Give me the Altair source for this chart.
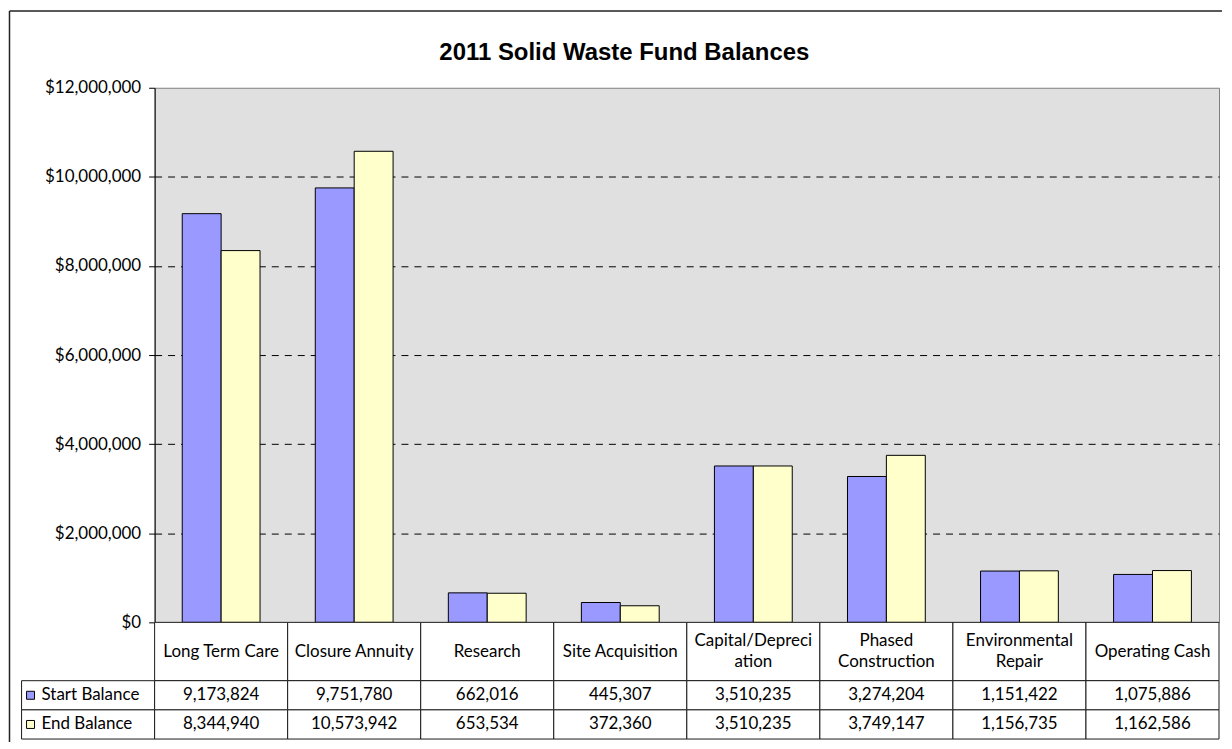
import altair as alt
import pandas as pd

# ---- data ----
categories = ["Long Term Care", "Closure Annuity", "Research", "Site Acquisition",
              "Capital/Depreciation", "Phased Construction", "Environmental Repair", "Operating Cash"]
header_labels = ["Long Term Care", "Closure Annuity", "Research", "Site Acquisition",
                 "Capital/Depreci\nation", "Phased\nConstruction", "Environmental\nRepair", "Operating Cash"]
series = ["Start Balance", "End Balance"]
start_balance = [9173824, 9751780, 662016, 445307, 3510235, 3274204, 1151422, 1075886]
end_balance = [8344940, 10573942, 653534, 372360, 3510235, 3749147, 1156735, 1162586]
colors = ["#9999FF", "#FFFFCC"]
y_ticks = [0, 2000000, 4000000, 6000000, 8000000, 10000000, 12000000]
title_text = ["2011 Solid Waste Fund Balances"]

# ---- layout / style ----
BW = 133.4          # width of one table column
H_PLOT = 536
H_TABLE = 117
FONT = "Lato"
FS = 17
LH = 22
LEG = "__legend__"
cols = [LEG] + categories

bars = pd.DataFrame({
    "category": categories * 2,
    "series": [series[0]] * len(categories) + [series[1]] * len(categories),
    "value": start_balance + end_balance,
})

# table cells: header row spans y 0..2, data rows 2..3 and 3..4
cell_rows = []
for c, lab in zip(categories, header_labels):
    cell_rows.append({"col": c, "y0": 0, "y1": 2, "ym": 1, "label": lab})
for i, (s, vals) in enumerate(zip(series, [start_balance, end_balance])):
    cell_rows.append({"col": LEG, "y0": 2 + i, "y1": 3 + i, "ym": 2.5 + i, "label": s, "series": s})
    for c, v in zip(categories, vals):
        cell_rows.append({"col": c, "y0": 2 + i, "y1": 3 + i, "ym": 2.5 + i, "value": v})
cells = pd.DataFrame(cell_rows)
header_df = cells[cells["y0"] == 0]
header_one = header_df[~header_df["label"].str.contains("\n")]
header_two = header_df[header_df["label"].str.contains("\n")]
value_df = cells[cells["value"].notna()]
legend_df = cells[cells["col"] == LEG]

color_scale = alt.Scale(domain=series, range=colors)

# ---- bar chart ----
x_a = alt.X("category:N", sort=categories,
            scale=alt.Scale(domain=categories, paddingInner=0, paddingOuter=0), axis=None)
bar = alt.Chart(bars).mark_bar(stroke="black", strokeWidth=1).encode(
    x=x_a,
    xOffset=alt.XOffset("series:N", sort=series,
                        scale=alt.Scale(domain=series, paddingInner=0, paddingOuter=0.71)),
    y=alt.Y("value:Q", scale=alt.Scale(domain=[0, 12000000], nice=False),
            axis=alt.Axis(values=y_ticks, format="$,.0f", title=None, grid=True,
                          gridColor="black", gridDash=[7, 6], gridWidth=1,
                          gridOpacity={"condition": {"test": "datum.value == 0 || datum.value >= 12000000", "value": 0}, "value": 1},
                          domainColor="black", tickColor="black", tickSize=6, labelPadding=8,
                          labelFont=FONT, labelFontSize=FS, labelColor="black")),
    color=alt.Color("series:N", sort=series, scale=color_scale, legend=None),
)

dummy = pd.DataFrame({"t": title_text})
frame_top = alt.Chart(dummy).mark_rule(color="#222", strokeWidth=1.5).encode(
    x=alt.value(-145.5), x2=alt.value(8 * BW + 3), y=alt.value(-77))
frame_left = alt.Chart(dummy).mark_rule(color="#222", strokeWidth=1.5).encode(
    x=alt.value(-145.5), y=alt.value(-77), y2=alt.value(H_PLOT + H_TABLE + 3))
title = alt.Chart(dummy).mark_text(
    font="Liberation Sans", fontSize=24, fontWeight="bold", color="black",
    align="center", baseline="alphabetic"
).encode(x=alt.value(471), y=alt.value(-28), text="t:N")

top = alt.layer(bar, frame_top, frame_left, title).properties(
    width=8 * BW, height=H_PLOT,
    view=alt.ViewBackground(fill="#e0e0e0", stroke="#808080", strokeWidth=1),
)

# ---- data table ----
x_b_scale = alt.Scale(domain=cols, range=[-BW, 8 * BW], paddingInner=0, paddingOuter=0)
y_b_scale = alt.Scale(domain=[0, 4], reverse=True, nice=False, zero=False)

cell_rects = alt.Chart(cells).mark_rect(fill="white", stroke="#1a1a1a", strokeWidth=1).encode(
    x=alt.X("col:N", scale=x_b_scale, axis=None),
    y=alt.Y("y0:Q", scale=y_b_scale, axis=None),
    y2="y1:Q",
)


def table_text(df, **kw):
    return alt.Chart(df).mark_text(
        font=FONT, fontSize=FS, lineBreak="\n", lineHeight=LH, baseline="middle", color="black", **kw
    ).encode(
        x=alt.X("col:N", scale=x_b_scale, axis=None),
        y=alt.Y("ym:Q", scale=y_b_scale, axis=None),
        text="label:N",
    )


header_text1 = table_text(header_one)
header_text2 = table_text(header_two, dy=-LH / 2)
value_text = alt.Chart(value_df).mark_text(
    font=FONT, fontSize=FS, baseline="middle", color="black"
).encode(
    x=alt.X("col:N", scale=x_b_scale, axis=None),
    y=alt.Y("ym:Q", scale=y_b_scale, axis=None),
    text=alt.Text("value:Q", format=","),
)
legend_sq = alt.Chart(legend_df).mark_point(
    shape="square", size=64, filled=True, opacity=1, stroke="black", strokeWidth=1, xOffset=9
).encode(
    x=alt.X("col:N", scale=x_b_scale, axis=None, bandPosition=0),
    y=alt.Y("ym:Q", scale=y_b_scale, axis=None),
    color=alt.Color("series:N", sort=series, scale=color_scale, legend=None),
)
legend_text = alt.Chart(legend_df).mark_text(
    font=FONT, fontSize=FS, baseline="middle", align="left", dx=20, color="black"
).encode(
    x=alt.X("col:N", scale=x_b_scale, axis=None, bandPosition=0),
    y=alt.Y("ym:Q", scale=y_b_scale, axis=None),
    text="label:N",
)

table = alt.layer(cell_rects, header_text1, header_text2, value_text, legend_sq, legend_text).properties(
    width=8 * BW, height=H_TABLE,
    view=alt.ViewBackground(fill="white", stroke="transparent"),
)

chart = alt.vconcat(top, table, spacing=0, bounds="flush").resolve_scale(
    x="independent", y="independent"
).properties(
    padding=0,
    background="white",
)

chart.save("out.html", embed_options={"renderer": "svg", "actions": False})
